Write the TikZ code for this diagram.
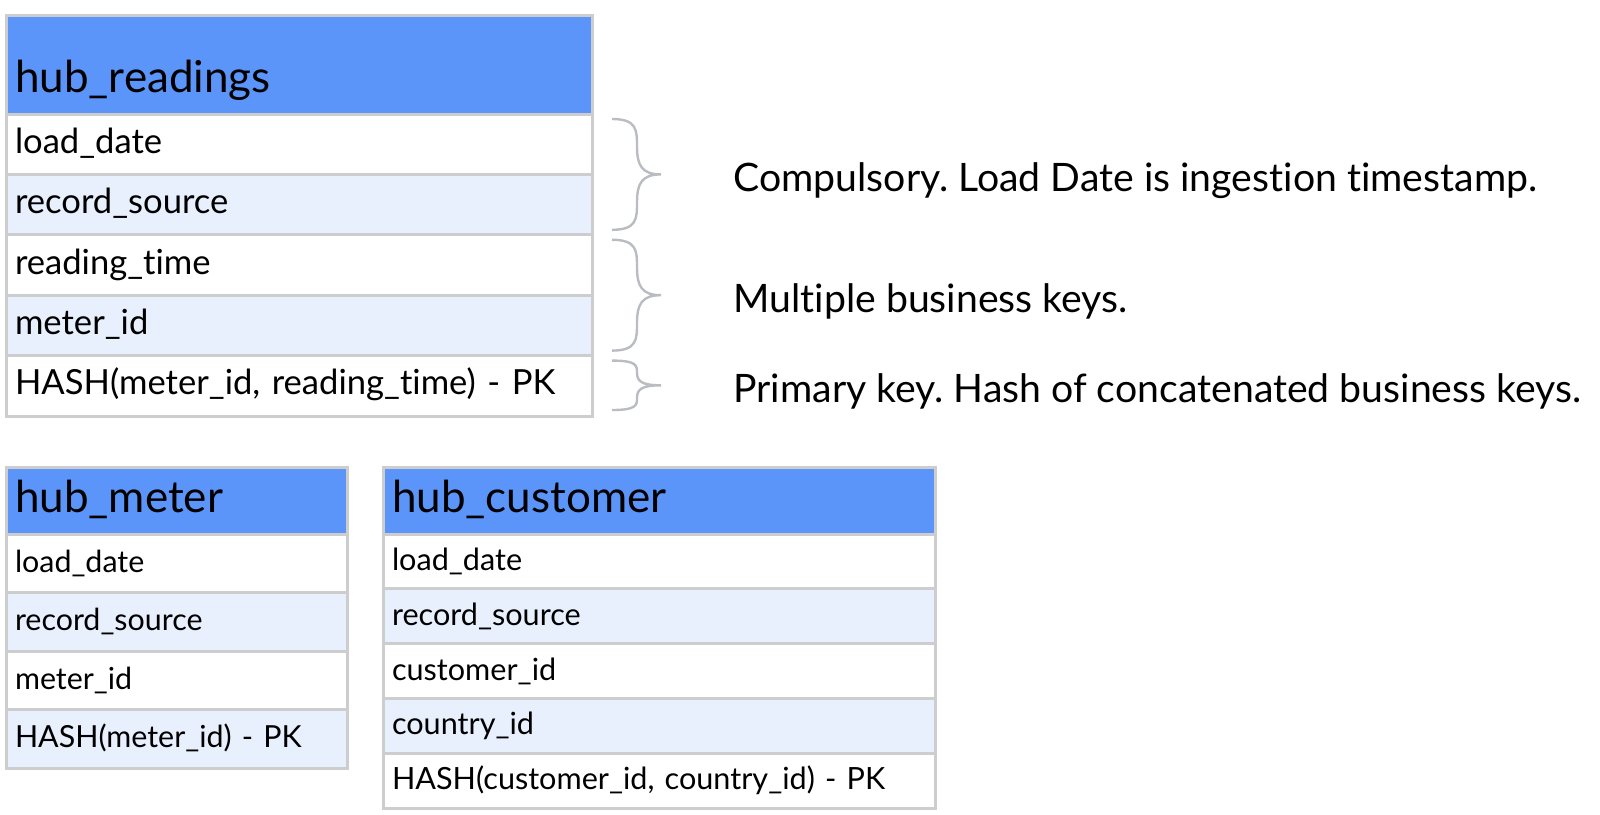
\documentclass[tikz,border=0pt]{standalone}
\usepackage{fontspec}
\setmainfont{Lato}[Ligatures={NoCommon}]
\usepackage{tikz}
\usetikzlibrary{positioning,calc}
\frenchspacing
\definecolor{hubblue}{HTML}{5B95F9}
\definecolor{rowblue}{HTML}{E8F0FE}
\definecolor{gridgray}{HTML}{CDCDCD}
\definecolor{bracegray}{HTML}{B9BDC2}
\tikzstyle{tablebox} = [draw=gridgray, line width=1.5pt, rectangle, outer sep=0pt,
    inner xsep=4.5pt, inner ysep=0pt, align=left, anchor=north west]
\tikzstyle{header} = [tablebox, fill=hubblue, font=\fontsize{22pt}{26pt}\selectfont, text depth=11pt]
\tikzstyle{field} = [tablebox, fill=white, text height=9pt, text depth=0pt]
\tikzstyle{fieldalt} = [field, fill=rowblue]
\tikzstyle{bigrow} = [font=\fontsize{17.3pt}{20pt}\selectfont, text width=284pt, minimum height=30.2pt]
\tikzstyle{note} = [font=\fontsize{19.6pt}{23pt}\selectfont, inner sep=0pt, text height=17.4pt, text depth=0pt]
% curly brace beside the rows, #3 names its tip
\newcommand{\sidebrace}[3]{%
  \draw[bracegray, line width=1.2pt]
    (#1) .. controls ($(#1)+(25,0)$) and ($(#1)!0.1!(#2)+(25,0)$) .. ($(#1)!0.25!(#2)+(25,0)$)
    .. controls ($(#1)!0.42!(#2)+(25,0)$) and ($(#1)!0.5!(#2)+(30,0)$) .. ($(#1)!0.5!(#2)+(49,0)$) coordinate (#3)
    .. controls ($(#1)!0.5!(#2)+(30,0)$) and ($(#1)!0.58!(#2)+(25,0)$) .. ($(#1)!0.75!(#2)+(25,0)$)
    .. controls ($(#1)!0.9!(#2)+(25,0)$) and ($(#2)+(25,0)$) .. (#2);
}

\begin{document}
\begin{tikzpicture}[x=0.5pt, y=-0.5pt]
\useasboundingbox (0,0) rectangle (1600,814);
% hub_readings
	\node [header, text width=284pt, text height=38.5pt] (hr) at (6,15) {hub\_readings};
	\node [field, bigrow, below=0pt of hr] (rl1) {load\_date};
	\node [fieldalt, bigrow, below=0pt of rl1] (rl2) {record\_source};
	\node [field, bigrow, below=0pt of rl2] (rl3) {reading\_time};
	\node [fieldalt, bigrow, below=0pt of rl3] (rl4) {meter\_id};
	\node [field, bigrow, below=0pt of rl4] (rl5) {HASH(meter\_id, reading\_time) - PK};
% Braces and notes
	\coordinate (b1top) at ($(rl1.north east)+(20,5)$);
	\coordinate (b1bot) at ($(rl2.south east)+(20,-5)$);
	\coordinate (b2top) at ($(rl3.north east)+(20,5)$);
	\coordinate (b2bot) at ($(rl4.south east)+(20,-5)$);
	\coordinate (b3top) at ($(rl5.north east)+(20,5)$);
	\coordinate (b3bot) at ($(rl5.south east)+(20,-6)$);
	\sidebrace{b1top}{b1bot}{tip1}
	\sidebrace{b2top}{b2bot}{tip2}
	\sidebrace{b3top}{b3bot}{tip3}
	\node [note, right=36pt of tip1] (n1) {Compulsory. Load Date is ingestion timestamp.};
	\node [note, right=36pt of tip2] (n2) {Multiple business keys.};
	\node [note, right=36pt of tip3] (n3) {Primary key. Hash of concatenated business keys.};
% hub_meter
	\node [header, text width=161.5pt, text height=22.5pt, below=25.5pt of rl5.south west, anchor=north west] (hm) {hub\_meter};
	\node [field, below=0pt of hm, text width=161.5pt, minimum height=29.25pt, font=\fontsize{15.2pt}{18pt}\selectfont] (ml1) {load\_date};
	\node [fieldalt, below=0pt of ml1, text width=161.5pt, minimum height=29.25pt, font=\fontsize{15.2pt}{18pt}\selectfont] (ml2) {record\_source};
	\node [field, below=0pt of ml2, text width=161.5pt, minimum height=29.25pt, font=\fontsize{15.2pt}{18pt}\selectfont] (ml3) {meter\_id};
	\node [fieldalt, below=0pt of ml3, text width=161.5pt, minimum height=29.25pt, font=\fontsize{15.2pt}{18pt}\selectfont] (ml4) {HASH(meter\_id) - PK};
% hub_customer
	\node [header, text width=267pt, text height=22.5pt, right=18pt of hm.north east, anchor=north west] (hc) {hub\_customer};
	\node [field, below=0pt of hc, text width=267pt, minimum height=27.4pt, font=\fontsize{15.3pt}{18pt}\selectfont] (cl1) {load\_date};
	\node [fieldalt, below=0pt of cl1, text width=267pt, minimum height=27.4pt, font=\fontsize{15.3pt}{18pt}\selectfont] (cl2) {record\_source};
	\node [field, below=0pt of cl2, text width=267pt, minimum height=27.4pt, font=\fontsize{15.3pt}{18pt}\selectfont] (cl3) {customer\_id};
	\node [fieldalt, below=0pt of cl3, text width=267pt, minimum height=27.4pt, font=\fontsize{15.3pt}{18pt}\selectfont] (cl4) {country\_id};
	\node [field, below=0pt of cl4, text width=267pt, minimum height=27.4pt, font=\fontsize{15.3pt}{18pt}\selectfont] (cl5) {HASH(customer\_id, country\_id) - PK};
\end{tikzpicture}
\end{document}
